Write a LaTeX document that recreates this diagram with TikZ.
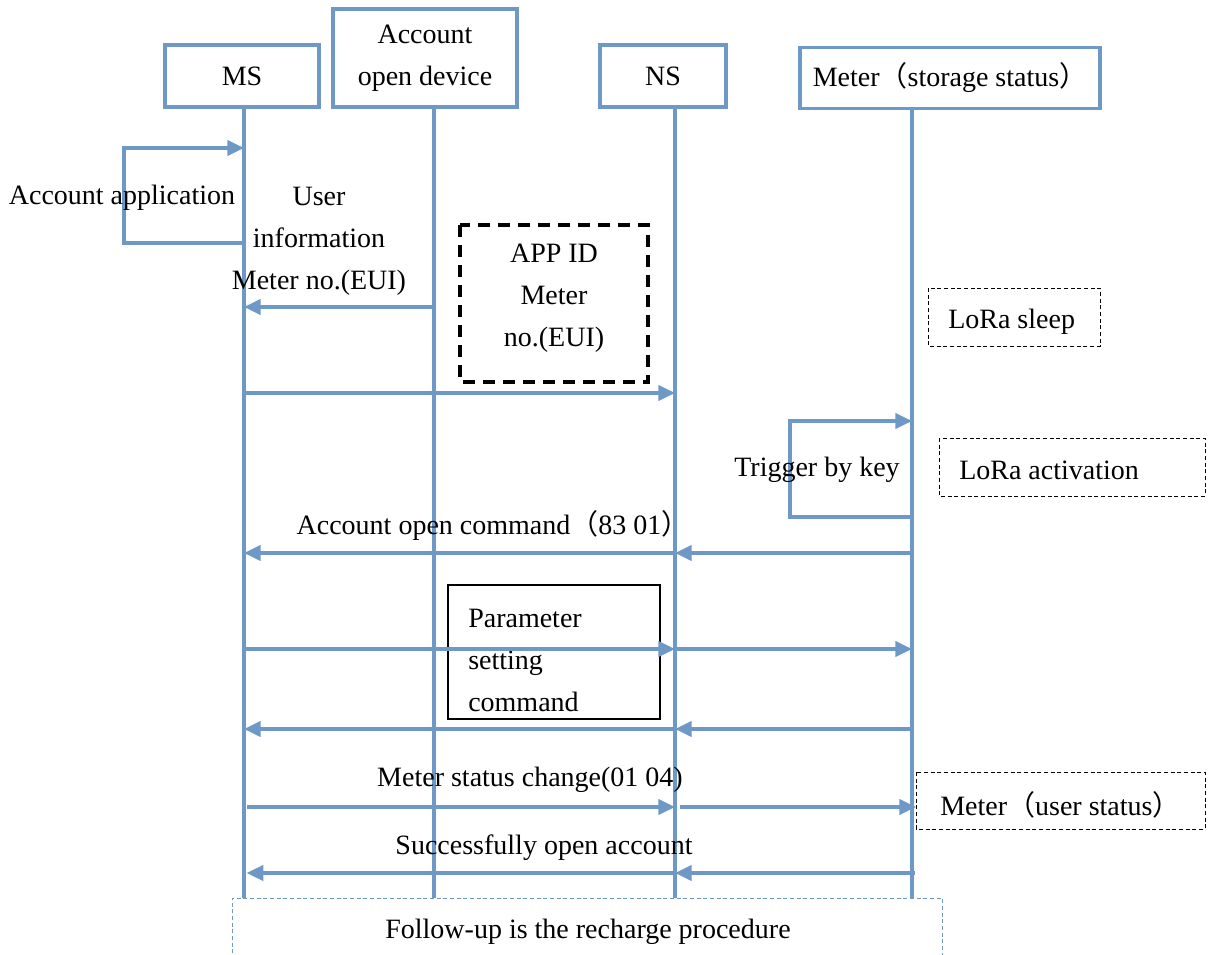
\documentclass[tikz,border=0pt]{standalone}
\usepackage{fontspec}
\setmainfont{Liberation Serif}
\newfontfamily\cjkfont{Noto Sans CJK SC}
\usetikzlibrary{arrows.meta}
\definecolor{lineblue}{RGB}{110,152,198}
% full-width parentheses
\newcommand{\fwl}{{\cjkfont （}}
\newcommand{\fwr}{{\cjkfont ）}}
\begin{document}
\begin{tikzpicture}[x=0.75pt,y=-0.75pt,
  txt/.style={font=\fontsize{21}{31.5}\selectfont, inner sep=0pt, align=center},
  header/.style={txt, draw=lineblue, line width=2.5pt, fill=white},
  life/.style={draw=lineblue, line width=2.4pt},
  msg/.style={draw=lineblue, line width=2.4pt, -{Triangle[length=12.5pt,width=11.5pt]}},
  notebox/.style={draw=black, line width=0.7pt, dash pattern=on 3pt off 2pt},
  idbox/.style={draw=black, line width=2.6pt, dash pattern=on 9pt off 6pt},
  cmdbox/.style={draw=black, line width=1pt},
  nextbox/.style={draw=lineblue, line width=0.7pt, dash pattern=on 3pt off 2pt}]
\useasboundingbox (0,0) rectangle (1214,955);

% participants
\node[header, minimum width=115.5pt, minimum height=46.5pt] (ms) at (242,76) {MS};
\node[header, minimum width=138pt, minimum height=73.5pt] (acc) at (425,58) {Account\\open device};
\node[header, minimum width=94.5pt, minimum height=46.5pt] (ns) at (663,76) {NS};
\node[header, minimum width=225pt, minimum height=45.75pt] (meter) at (950,78) {Meter\fwl storage status\fwr};

% lifeline columns and message rows
\coordinate (msx) at (244,0);
\coordinate (acx) at (434,0);
\coordinate (nsx) at (675,0);
\coordinate (mtx) at (912,0);
\coordinate (bottom) at (0,898);
\coordinate (loopT) at (124,148);
\coordinate (loopB) at (0,243);
\coordinate (rInfo) at (0,307);
\coordinate (rReg) at (0,393);
\coordinate (keyT) at (790,421);
\coordinate (keyB) at (0,517);
\coordinate (rOpen) at (0,553);
\coordinate (rSet) at (0,649);
\coordinate (rAck) at (0,729);
\coordinate (rChg) at (0,807);
\coordinate (rDone) at (0,873);

% lifelines
\draw[life] (ms.south -| msx) -- (msx |- bottom);
\draw[life] (acc.south -| acx) -- (acx |- bottom);
\draw[life] (ns.south -| nsx) -- (nsx |- bottom);
\draw[life] (meter.south -| mtx) -- (mtx |- bottom);

% account application (self message on MS)
\draw[msg] (msx |- loopB) -- (loopT |- loopB) -- (loopT) -- (msx |- loopT);
\node[txt] (appl) at (122,198) {Account application};

% user information from the account open device
\node[txt] (uinfo) at (319,241) {User\\information\\Meter no.(EUI)};
\draw[msg] (acx |- rInfo) -- (msx |- rInfo);

% registration towards NS
\draw[idbox] (460,225) rectangle (648,382);
\node[txt] (appid) at (554,298) {APP ID\\Meter\\no.(EUI)};
\draw[msg] (msx |- rReg) -- (nsx |- rReg);

% meter wake-up
\draw[notebox] (928,288) rectangle (1100,346);
\node[txt, anchor=west] (sleep) at (948,322) {LoRa sleep};
\draw[msg] (mtx |- keyB) -- (keyT |- keyB) -- (keyT) -- (mtx |- keyT);
\node[txt] (trig) at (817,470) {Trigger by key};
\draw[notebox] (939,438) rectangle (1205,496);
\node[txt, anchor=west] (act) at (959,470) {LoRa activation};

% account open command
\node[txt] (opencmd) at (493,525) {Account open command\fwl 83 01\fwr};
\draw[msg] (mtx |- rOpen) -- (nsx |- rOpen);
\draw[msg] (nsx |- rOpen) -- (msx |- rOpen);

% parameter setting
\draw[cmdbox] (448,585) rectangle (660,719);
\node[txt, anchor=west, align=left] (param) at (468,660) {Parameter\\setting\\command};
\draw[msg] (msx |- rSet) -- (nsx |- rSet);
\draw[msg] (nsx |- rSet) -- (mtx |- rSet);
\draw[msg] (mtx |- rAck) -- (nsx |- rAck);
\draw[msg] (nsx |- rAck) -- (msx |- rAck);

% status change
\node[txt] (chg) at (530,780) {Meter status change(01 04)};
\draw[msg] ([xshift=2pt]msx |- rChg) -- (nsx |- rChg);
\draw[msg] ([xshift=4pt]nsx |- rChg) -- ([xshift=3pt]mtx |- rChg);
\draw[notebox] (916,772) rectangle (1205,829);
\node[txt, anchor=west] (user) at (940,805) {Meter\fwl user status\fwr};

% completion
\node[txt] (done) at (544,848) {Successfully open account};
\draw[msg] ([xshift=2pt]mtx |- rDone) -- (nsx |- rDone);
\draw[msg] (nsx |- rDone) -- ([xshift=2pt]msx |- rDone);

% next procedure
\draw[nextbox] (232,960) -- (232,898) -- (942,898) -- (942,960);
\node[txt] (next) at (588,932) {Follow-up is the recharge procedure};
\end{tikzpicture}
\end{document}
